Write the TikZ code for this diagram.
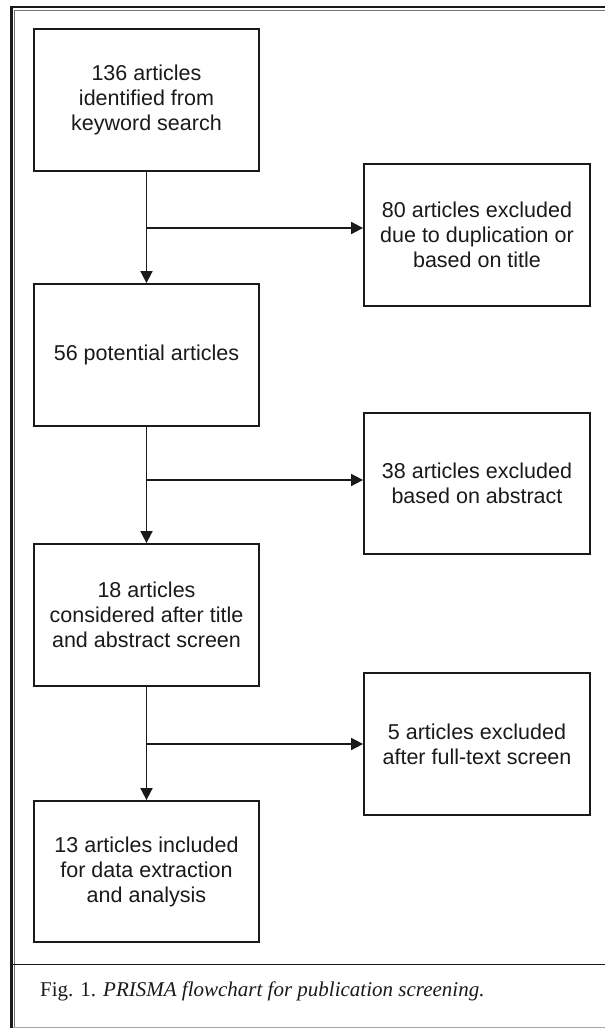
\documentclass[tikz,border=0pt]{standalone}
\usepackage{fontspec}
\setmainfont{Liberation Serif}
\newfontfamily\boxfont{Liberation Sans}
\usetikzlibrary{arrows.meta}
\definecolor{ink}{HTML}{1A1A1A}
\tikzset{
  stagebox/.style={draw=ink, line width=1.8pt, rectangle, minimum width=225pt, minimum height=142pt,
    align=center, inner sep=0pt, font=\boxfont\fontsize{21.5}{25}\selectfont, text=ink},
  flow/.style={draw=ink, line width=1.7pt, -{Triangle[length=12pt,width=12pt]}}
}
\begin{document}
\begin{tikzpicture}[x=1pt,y=-1pt]
\useasboundingbox (0,0) rectangle (605,1028);
\fill[white] (0,0) rectangle (605,1028);
% frame
\draw[line width=2.4pt, ink] (11.5,1028) -- (11.5,7) -- (605,7);
\draw[line width=1pt, black!55] (14.8,1028) -- (14.8,10.5) -- (605,10.5);
\draw[line width=1.2pt, ink] (13,964.5) -- (605,964.5);
\draw[line width=1.2pt, black!35] (13,1027.4) -- (605,1027.4);
% boxes
\node[stagebox] (b1) at (146.5,100) {136 articles\\identified from\\keyword search};
\node[stagebox] (b2) at (146.5,355) {56 potential articles};
\node[stagebox] (b3) at (146.5,615) {18 articles\\considered after title\\and abstract screen};
\node[stagebox, minimum height=141pt] (b4) at (146.5,871.5) {13 articles included\\for data extraction\\and analysis};
\node[stagebox, minimum width=226pt] (r1) at (477,235) {80 articles excluded\\due to duplication or\\based on title};
\node[stagebox, minimum width=226pt, minimum height=141pt] (r2) at (477,483.5) {38 articles excluded\\based on abstract};
\node[stagebox, minimum width=226pt] (r3) at (477,744) {5 articles excluded\\after full-text screen};
% junctions
\coordinate (j1) at (146.5,228);
\coordinate (j2) at (146.5,480);
\coordinate (j3) at (146.5,744);
% connectors
\draw[flow] (b1) -- (b2);
\draw[flow] (b2) -- (b3);
\draw[flow] (b3) -- (b4);
\draw[flow] (j1) -- (j1 -| r1.west);
\draw[flow] (j2) -- (j2 -| r2.west);
\draw[flow] (j3) -- (j3 -| r3.west);
% caption
\node[anchor=base west, inner sep=0pt, font=\fontsize{21}{25}\selectfont, text=ink] (cap) at (40,996)
  {Fig. 1. \textit{PRISMA flowchart for publication screening.}};
\end{tikzpicture}
\end{document}
